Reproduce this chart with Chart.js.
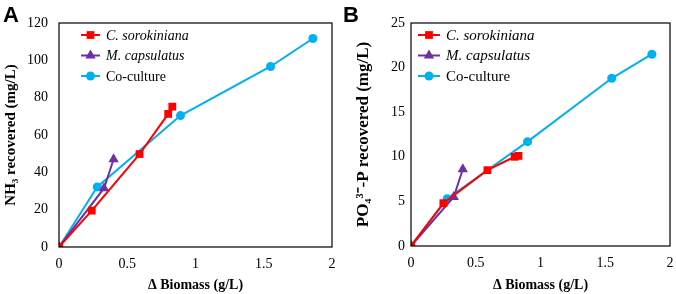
<!DOCTYPE html>
<html>
<head>
<meta charset="utf-8">
<script src="https://cdn.jsdelivr.net/npm/chart.js@4.4.0/dist/chart.umd.min.js"></script>
<style>
  body { margin: 0; background: #fff; }
  .panel { position: absolute; top: 0; width: 338px; height: 294px; }
  .lab { position: absolute; top: 2px; font: bold 22px "Liberation Sans", Arial, sans-serif; }
</style>
</head>
<body>
<div class="panel" style="left:0"><canvas id="chartA"></canvas></div>
<div class="panel" style="left:338px"><canvas id="chartB"></canvas></div>
<div class="lab" style="left:3px">A</div>
<div class="lab" style="left:343px">B</div>
<script>
// series names
const names = ['C. sorokiniana', 'M. capsulatus', 'Co-culture']
const xTicks = [0, 0.5, 1, 1.5, 2]

// panel A - NH3 recovered
const csA_x = [0, 0.24, 0.59, 0.80, 0.83]
const csA_y = [0, 19.5, 49.8, 71.3, 75.2]
const mcA_x = [0, 0.33, 0.40]
const mcA_y = [0, 31.5, 47]
const coA_x = [0, 0.28, 0.89, 1.55, 1.86]
const coA_y = [0, 32.2, 70.4, 96.7, 111.7]

// panel B - PO4-P recovered
const csB_x = [0, 0.25, 0.59, 0.80, 0.83]
const csB_y = [0, 4.8, 8.5, 10.0, 10.1]
const mcB_x = [0, 0.33, 0.40]
const mcB_y = [0, 5.5, 8.6]
const coB_x = [0, 0.28, 0.90, 1.55, 1.86]
const coB_y = [0, 5.3, 11.7, 18.8, 21.5]

const colors = ['#ff0000', '#7030a0', '#00b0f0']
const shapes = ['rect', 'triangle', 'circle']
const radii = [5.5, 6, 4.5]
const serif = '"Liberation Serif", "Times New Roman", serif'

function pts(xs, ys) {
    return xs.map((x, i) => ({x: x, y: ys[i]}))
}

function makeSets(sets) {
    return sets.map((s, i) => ({
        label: names[i],
        data: pts(s[0], s[1]),
        borderColor: colors[i],
        backgroundColor: colors[i],
        borderWidth: 2,
        pointStyle: shapes[i],
        pointRadius: radii[i],
        pointBorderWidth: 0,
        fill: false,
        tension: 0
    }))
}

// frame round plot area + legend inside it
const boxPlugin = {
    id: 'box',
    afterDraw(chart, args, opts) {
        const c = chart.ctx, a = chart.chartArea
        c.save()
        c.strokeStyle = '#000'
        c.lineWidth = 1.2
        c.strokeRect(a.left, a.top, a.right - a.left, a.bottom - a.top)
        // legend
        chart.data.datasets.forEach((ds, i) => {
            const y = opts.y0 + i * 20.5
            const x0 = opts.x0
            c.strokeStyle = ds.borderColor
            c.lineWidth = 2
            c.beginPath(); c.moveTo(x0, y); c.lineTo(x0 + opts.len, y); c.stroke()
            c.fillStyle = ds.backgroundColor
            Chart.helpers.drawPoint(c, {pointStyle: ds.pointStyle, radius: ds.pointRadius, rotation: 0, borderWidth: 0}, x0 + opts.len / 2, y)
            c.fillStyle = '#000'
            c.font = (i < 2 ? 'italic ' : '') + opts.size + 'px ' + serif
            c.textBaseline = 'middle'
            c.fillText(ds.label, x0 + opts.len + 6, y + 1)
        })
        c.restore()
    }
}

function makeChart(id, sets, yMax, yStep, yTitle, yw, xh, padR, tickPad, titleSize, titlePad, leg) {
    return new Chart(document.getElementById(id), {
        type: 'line',
        data: { datasets: makeSets(sets) },
        plugins: [boxPlugin],
        options: {
            responsive: false,
            animation: false,
            layout: { padding: { top: 23, right: padR, left: 0, bottom: 0 } },
            plugins: { legend: { display: false }, tooltip: { enabled: false }, box: leg },
            scales: {
                x: {
                    type: 'linear', min: 0, max: 2,
                    afterBuildTicks: s => { s.ticks = xTicks.map(v => ({value: v})) },
                    afterFit: s => { s.height = xh; s.paddingLeft = 0; s.paddingRight = 0 },
                    grid: { display: false, drawTicks: false },
                    border: { display: false },
                    ticks: { color: '#000', padding: 9, maxRotation: 0, callback: v => String(v), font: { family: serif, size: 14 } },
                    title: { display: true, text: '\u0394 Biomass (g/L)', color: '#000', padding: { top: 4, bottom: 0 }, font: { family: serif, size: 14, weight: 'bold' } }
                },
                y: {
                    min: 0, max: yMax,
                    afterFit: s => { s.width = yw; s.paddingTop = 0; s.paddingBottom = 0 },
                    grid: { display: false, drawTicks: false },
                    border: { display: false },
                    ticks: { stepSize: yStep, color: '#000', padding: tickPad, font: { family: serif, size: 14 } },
                    title: { display: true, text: yTitle, color: '#000', padding: titlePad, font: { family: serif, size: titleSize, weight: 'bold' } }
                }
            }
        }
    })
}

const cvA = document.getElementById('chartA'); cvA.width = 338; cvA.height = 294
const cvB = document.getElementById('chartB'); cvB.width = 338; cvB.height = 294

makeChart('chartA', [[csA_x, csA_y], [mcA_x, mcA_y], [coA_x, coA_y]], 120, 20,
    'NH\u2083 recovered (mg/L)', 59, 47, 5, 11, 15, 2, {x0: 81, y0: 35, len: 19, size: 14})
makeChart('chartB', [[csB_x, csB_y], [mcB_x, mcB_y], [coB_x, coB_y]], 25, 5,
    'PO\u2084\u00b3\u207b-P recovered (mg/L)', 73, 48, 6, 6, 17, 15, {x0: 80, y0: 35, len: 22, size: 15})
</script>
</body>
</html>
